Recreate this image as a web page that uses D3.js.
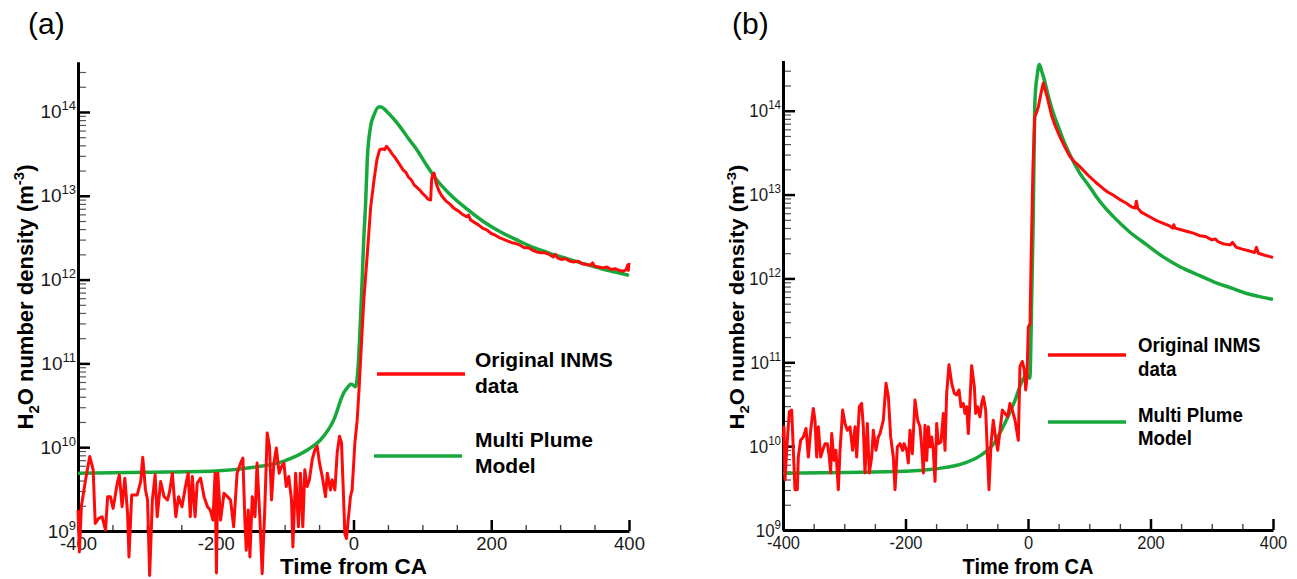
<!DOCTYPE html>
<html>
<head>
<meta charset="utf-8">
<script src="https://cdn.jsdelivr.net/npm/d3@7"></script>
<style>
  body { margin: 0; background: #fff; }
  text { font-family: "Liberation Sans", Arial, Helvetica, sans-serif; }
</style>
</head>
<body>
<script>
// time from closest approach (s) and log10 of H2O number density (m^-3)
const inmsA = [
  [-400, 9.25], [-398, 8.75], [-395, 9.3], [-389, 9.61], [-383, 9.89], [-378, 9.73], [-375, 9.09],
  [-370, 9.15], [-365, 9.17], [-360, 9.01], [-357, 9.41], [-353, 9.41], [-349, 9.27], [-343, 9.57],
  [-340, 9.67], [-336, 9.29], [-332, 9.63], [-328, 9.21], [-326, 8.69], [-322, 9.43], [-319, 9.43],
  [-314, 9.43], [-309, 9.59], [-306, 9.88], [-302, 9.49], [-299, 9.37], [-296, 8.47], [-292, 9.37],
  [-288, 9.67], [-285, 9.17], [-280, 9.59], [-275, 9.41], [-270, 9.37], [-267, 9.47], [-263, 9.69],
  [-258, 9.17], [-254, 9.41], [-249, 9.29], [-244, 9.53], [-240, 9.69], [-237, 9.17], [-234, 9.65],
  [-230, 9.17], [-227, 9.57], [-222, 9.63], [-217, 9.41], [-212, 9.29], [-208, 9.25], [-204, 9.13],
  [-201, 9.69], [-199, 8.5], [-197, 9.69], [-193, 9.13], [-188, 9.45], [-183, 9.41], [-178.5, 9.37],
  [-174, 9.05], [-169, 9.69], [-164, 9.81], [-160.6, 9.87], [-157.7, 9.13], [-155.7, 8.77],
  [-152.8, 9.25], [-150.4, 8.69], [-147, 9.41], [-143, 9.17], [-140, 9.81], [-136, 9.17],
  [-132.6, 8.49], [-128.7, 9.29], [-125.3, 10.17], [-122, 10.01], [-119, 9.37], [-115.6, 9.81],
  [-112, 9.99], [-108, 9.69], [-104.5, 9.77], [-101, 9.81], [-97.7, 9.53], [-94, 9.65], [-90, 9.37],
  [-88, 8.81], [-84, 9.69], [-80, 9.05], [-77, 9.69], [-73.6, 9.05], [-70.7, 9.73], [-67.3, 9.53],
  [-64, 9.61], [-60, 9.85], [-56, 9.97], [-52.7, 10.01], [-49.3, 9.81], [-45.4, 9.65], [-40.6, 9.41],
  [-38, 9.69], [-33.4, 9.49], [-31, 9.61], [-27, 9.49], [-23.7, 9.93], [-20.3, 10.13], [-17.4, 10.05],
  [-15, 9.53], [-12.6, 8.97], [-10.2, 8.91], [-7.7, 9.13], [-4.4, 9.41], [-2, 9.49], [2, 10.05],
  [5.3, 10.32], [8, 10.68], [12.6, 11.4], [15, 11.76], [20, 12.3], [25, 12.87], [30, 13.2],
  [34, 13.43], [38, 13.55], [42, 13.56], [45, 13.55], [48, 13.59], [52, 13.55], [56, 13.5],
  [60, 13.46], [64, 13.41], [68, 13.36], [72, 13.31], [76, 13.28], [80, 13.22], [84, 13.19],
  [88, 13.13], [92, 13.1], [96, 13.07], [100, 13.03], [104, 13.0], [108, 12.96], [112, 12.95],
  [113.5, 13.2], [115, 13.25], [117, 13.27], [120, 13.15], [124, 13.06], [128, 13.0], [134, 12.94],
  [140, 12.9], [146, 12.85], [152, 12.82], [158, 12.78], [164, 12.75], [167, 12.77], [170, 12.71],
  [176, 12.68], [182, 12.65], [188, 12.61], [194, 12.59], [200, 12.55], [206, 12.53], [212, 12.5],
  [218, 12.48], [224, 12.46], [230, 12.44], [236, 12.43], [242, 12.41], [248, 12.38], [254, 12.38],
  [260, 12.35], [266, 12.33], [272, 12.32], [278, 12.32], [284, 12.3], [290, 12.27], [293, 12.3],
  [296, 12.26], [302, 12.24], [308, 12.25], [314, 12.22], [320, 12.21], [326, 12.22], [332, 12.19],
  [338, 12.18], [344, 12.17], [347, 12.2], [350, 12.16], [356, 12.15], [362, 12.14], [368, 12.15],
  [374, 12.12], [380, 12.13], [386, 12.11], [392, 12.1], [396, 12.12], [398, 12.17], [399, 12.11],
  [400, 12.2]
];

const modelA = [
  [-400, 9.69], [-300, 9.70], [-200, 9.716], [-145, 9.76], [-101, 9.835], [-67, 9.967],
  [-48, 10.086], [-29, 10.32], [-14, 10.65], [-8, 10.72], [-4, 10.75], [0, 10.74], [3, 10.72],
  [7, 11.0], [10, 11.5], [12.6, 12.0], [15, 12.5], [17.4, 12.87], [20, 13.43], [24.7, 13.82],
  [30, 13.97], [36.6, 14.06], [40, 14.06], [49, 14.0], [58, 13.92], [68, 13.82], [80, 13.68],
  [92, 13.55], [105, 13.38], [119, 13.21], [141, 13.01], [165, 12.84], [189, 12.69], [213, 12.57],
  [238, 12.47], [262, 12.38], [286, 12.31], [310, 12.25], [334, 12.19], [360, 12.13], [380, 12.09],
  [400, 12.05]
];

const inmsB = [
  [-400, 10.1], [-398.4, 10.23], [-396.7, 9.6], [-394, 9.95], [-389.7, 10.41], [-385.8, 10.43],
  [-383.1, 9.95], [-380.4, 9.48], [-376.6, 9.48], [-375, 9.87], [-371.2, 10.07], [-366.8, 10.11],
  [-362.4, 10.21], [-358.6, 9.87], [-354.8, 10.19], [-350.5, 10.45], [-347.8, 10.31], [-345, 9.87],
  [-342.3, 10.23], [-338.5, 9.87], [-335.2, 9.95], [-331.4, 10.03], [-327.6, 10.03], [-324.4, 9.87],
  [-322.2, 9.68], [-320.5, 10.15], [-316.7, 9.83], [-313.5, 9.95], [-309.7, 9.48], [-306.9, 9.95],
  [-302.6, 10.43], [-298.8, 10.27], [-295, 10.19], [-290.6, 10.23], [-286.3, 9.95], [-282.4, 10.23],
  [-279.7, 9.87], [-275.4, 10.47], [-271.6, 10.51], [-268.9, 10.23], [-266.1, 9.68], [-262.3, 10.27],
  [-259.1, 9.68], [-255.2, 9.87], [-252.5, 10.19], [-248.2, 9.95], [-244.4, 10.11], [-241.6, 10.15],
  [-236.2, 10.31], [-231.8, 10.75], [-228, 10.59], [-224.2, 10.11], [-219.9, 9.87], [-217.1, 9.48],
  [-213.3, 9.99], [-209, 10.03], [-204.6, 9.95], [-202.4, 10.03], [-198.1, 9.95], [-195.4, 9.8],
  [-192.7, 10.19], [-188.8, 9.91], [-184.5, 10.55], [-180.1, 10.31], [-176.3, 10.23], [-173.6, 9.99],
  [-170.9, 9.68], [-168.2, 10.25], [-165.4, 9.83], [-162.7, 10.23], [-160, 9.99], [-157.3, 10.11],
  [-154.6, 9.95], [-151.8, 9.58], [-149.1, 10.27], [-146.4, 10.03], [-142, 10.05], [-138.2, 10.39],
  [-135.5, 9.95], [-132.8, 10.63], [-129, 10.97], [-124.6, 10.75], [-120.3, 10.63], [-116.5, 10.61],
  [-112.7, 10.67], [-109.4, 10.47], [-105.6, 10.51], [-102.9, 10.39], [-100.1, 10.47], [-97.4, 10.15],
  [-94.7, 10.55], [-92, 10.96], [-87.6, 10.71], [-85.4, 10.39], [-82.2, 10.47], [-78.4, 10.35],
  [-75.6, 10.51], [-72.9, 10.59], [-69.1, 10.43], [-65.8, 9.83], [-63.7, 9.48], [-60.4, 10.03],
  [-56.6, 10.31], [-53.9, 10.15], [-49.5, 9.95], [-45.7, 10.19], [-41.9, 10.43], [-37.6, 10.39],
  [-33.2, 10.35], [-29.4, 10.51], [-25.6, 10.43], [-21.2, 10.31], [-15.8, 10.07], [-13.1, 10.95],
  [-9.3, 11.01], [-6, 10.91], [-3.8, 10.67], [-1.6, 10.83], [0.5, 11.42], [3.3, 11.46], [5, 12.2],
  [8, 13.3], [11, 13.93], [14, 13.98], [17, 14.05], [21, 14.2], [25, 14.33], [28, 14.25], [31, 14.17],
  [35, 14.05], [39, 13.93], [45, 13.81], [52, 13.69], [60, 13.57], [68, 13.46], [76, 13.39],
  [85, 13.33], [93, 13.27], [101, 13.21], [110, 13.15], [118, 13.1], [123, 13.07], [130, 13.03],
  [140, 12.99], [150, 12.94], [160, 12.9], [170, 12.85], [175, 12.84], [177, 12.92], [179, 12.84],
  [185, 12.79], [190, 12.77], [200, 12.73], [210, 12.69], [220, 12.66], [230, 12.63], [236, 12.6],
  [238, 12.64], [240, 12.6], [250, 12.58], [260, 12.56], [270, 12.54], [280, 12.51], [290, 12.5],
  [300, 12.46], [306, 12.47], [310, 12.44], [320, 12.41], [330, 12.4], [334, 12.43], [340, 12.37],
  [350, 12.35], [360, 12.33], [370, 12.31], [373, 12.37], [376, 12.3], [385, 12.28], [395, 12.26],
  [400, 12.25]
];

const modelB = [
  [-400, 9.676], [-300, 9.685], [-200, 9.70], [-150, 9.73], [-103, 9.80], [-76, 9.895], [-54, 10.05],
  [-38, 10.27], [-21, 10.55], [-10, 10.77], [-2, 10.85], [3, 10.81], [6, 11.74], [8.5, 12.7],
  [11.4, 14.13], [15, 14.42], [18.5, 14.55], [22, 14.48], [25, 14.41], [33, 14.18], [41.4, 13.97],
  [50, 13.8], [57.7, 13.65], [70, 13.45], [85, 13.25], [100, 13.1], [112, 12.97], [125, 12.85],
  [139, 12.74], [165, 12.56], [194, 12.40], [220, 12.26], [248, 12.14], [275, 12.05], [303, 11.96],
  [330, 11.89], [357, 11.82], [380, 11.78], [400, 11.75]
];

const xTicks = [-400, -200, 0, 200, 400];
const xMinorTicks = [-350, -300, -250, -150, -100, -50, 50, 100, 150, 250, 300, 350];
const yTickExps = [9, 10, 11, 12, 13, 14];
const yTopExp = 14.6;
const legendLabels = [['Original INMS', 'data'], ['Multi Plume', 'Model']];

const RED = '#ff0a0a', GREEN = '#17a83c';

const svg = d3.select('body').append('svg')
  .attr('width', 1297)
  .attr('height', 579);

function put(g, x, y, sx, rot) {
  return g.append('text')
    .attr('transform', `translate(${x},${y}) scale(${sx},1)` + (rot ? ` rotate(${rot})` : ''));
}

function drawPanel(p) {
  const x = d3.scaleLinear().domain([-400, 400]).range([p.left, p.right]);
  const y = d3.scaleLog().domain([1e9, Math.pow(10, yTopExp)]).range([p.bottom, p.top]);
  const g = svg.append('g');

  // x axis: minor then major ticks, pointing inward
  g.append('g')
    .attr('transform', `translate(0,${p.bottom})`)
    .call(d3.axisBottom(x).tickValues(xMinorTicks).tickSize(-6).tickSizeOuter(0).tickFormat(''))
    .call(a => a.select('.domain').remove())
    .call(a => a.selectAll('line').attr('stroke', '#444').attr('stroke-width', 1.4));

  const xa = g.append('g')
    .attr('transform', `translate(0,${p.bottom})`)
    .call(d3.axisBottom(x).tickValues(xTicks).tickSize(-11).tickSizeOuter(0).tickPadding(6)
      .tickFormat(d => String(d)));
  xa.select('.domain').attr('stroke', '#000').attr('stroke-width', 3);
  xa.selectAll('line').attr('stroke', '#000').attr('stroke-width', 2.5);
  xa.selectAll('text')
    .attr('font-size', 18.5)
    .attr('font-family', '"Liberation Sans", Arial, sans-serif')
    .attr('fill', '#1a1a1a')
    .attr('transform', `scale(${p.sx},1)`);

  // y axis: minor ticks 2..9 per decade
  const minors = [];
  yTickExps.forEach(e => {
    for (let m = 2; m <= 9; m++) {
      const v = m * Math.pow(10, e);
      if (v < Math.pow(10, yTopExp)) minors.push(v);
    }
  });
  g.append('g')
    .attr('transform', `translate(${p.left},0)`)
    .call(d3.axisRight(y).tickValues(minors).tickSize(8).tickSizeOuter(0).tickFormat(''))
    .call(a => a.select('.domain').remove())
    .call(a => a.selectAll('line').attr('stroke', '#555').attr('stroke-width', 1.2));

  const ya = g.append('g')
    .attr('transform', `translate(${p.left},0)`)
    .call(d3.axisRight(y).tickValues(yTickExps.map(e => Math.pow(10, e)))
      .tickSize(12).tickSizeOuter(0).tickFormat(''));
  ya.select('.domain').attr('stroke', '#000').attr('stroke-width', 3);
  ya.selectAll('line').attr('stroke', '#000').attr('stroke-width', 2.5);

  yTickExps.forEach(e => {
    const t = put(g, p.left - 2, y(Math.pow(10, e)) + 6.5, p.sx)
      .attr('text-anchor', 'end').attr('font-size', 19).attr('fill', '#1a1a1a');
    t.append('tspan').text('10');
    t.append('tspan').attr('font-size', 13).attr('dy', -8).text(e);
  });

  // axis titles
  put(g, x(0), 574, p.sx)
    .attr('text-anchor', 'middle').attr('font-size', 22.5).attr('font-weight', 'bold')
    .text('Time from CA');

  const yt = put(g, p.ytitleX, 297, p.sx, -90)
    .attr('text-anchor', 'middle').attr('font-size', 22).attr('font-weight', 'bold');
  yt.append('tspan').text('H');
  yt.append('tspan').attr('font-size', 15).attr('dy', 6).text('2');
  yt.append('tspan').attr('dy', -6).text('O number density (m');
  yt.append('tspan').attr('font-size', 15).attr('dy', -9).text('-3');
  yt.append('tspan').attr('dy', 9).text(')');

  // panel label
  g.append('text').attr('x', p.labelX).attr('y', 34)
    .attr('font-size', 30).text(p.label);

  // series
  const line = d3.line().x(d => x(d[0])).y(d => y(Math.pow(10, d[1])));
  g.append('path').datum(p.model)
    .attr('fill', 'none').attr('stroke', GREEN).attr('stroke-width', 3.5)
    .attr('stroke-linejoin', 'round')
    .attr('d', line.curve(d3.curveMonotoneX));
  g.append('path').datum(p.inms)
    .attr('fill', 'none').attr('stroke', RED).attr('stroke-width', 3)
    .attr('stroke-linejoin', 'round')
    .attr('d', line.curve(d3.curveLinear));

  // legend
  [RED, GREEN].forEach((c, i) => {
    const L = p.legend[i];
    g.append('line')
      .attr('x1', L.x1).attr('x2', L.x2).attr('y1', L.ly).attr('y2', L.ly)
      .attr('stroke', c).attr('stroke-width', 3.5);
    legendLabels[i].forEach((s, j) => {
      put(g, p.legendTextX, L.ty + j * L.dy, p.sx)
        .attr('font-size', 21).attr('font-weight', 'bold').text(s);
    });
  });
}

drawPanel({
  label: '(a)', labelX: 28, left: 78, right: 629, top: 61.7, bottom: 531, sx: 1, ytitleX: 33,
  inms: inmsA, model: modelA, legendTextX: 475,
  legend: [{ x1: 377, x2: 465, ly: 374, ty: 367, dy: 26 }, { x1: 374, x2: 462, ly: 456, ty: 447, dy: 26 }]
});

drawPanel({
  label: '(b)', labelX: 732, left: 783, right: 1273, top: 60.4, bottom: 530, sx: 0.89, ytitleX: 744,
  inms: inmsB, model: modelB, legendTextX: 1138,
  legend: [{ x1: 1048, x2: 1126, ly: 355, ty: 352, dy: 24 }, { x1: 1048, x2: 1126, ly: 422, ty: 422, dy: 23 }]
});
</script>
</body>
</html>
